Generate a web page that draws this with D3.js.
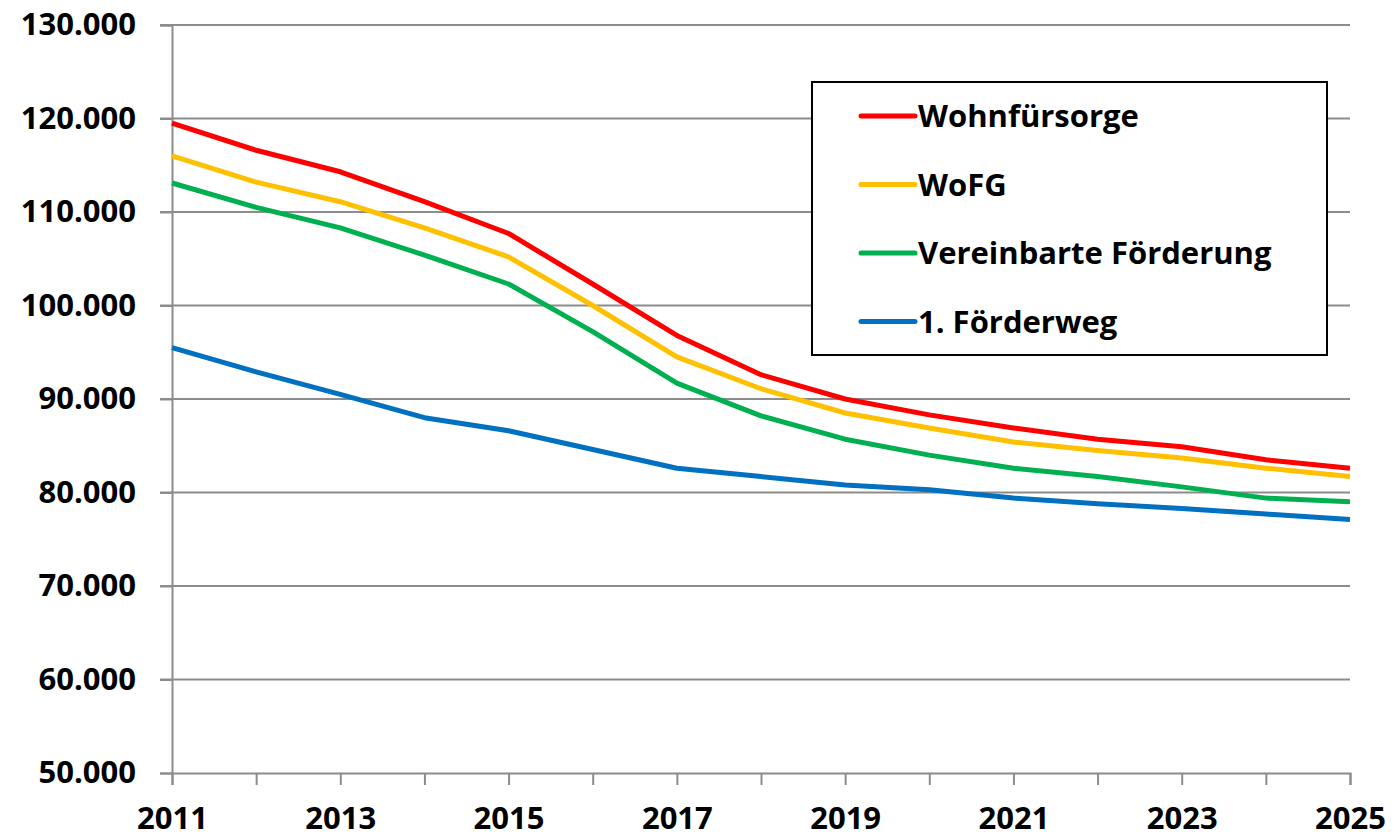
<!DOCTYPE html>
<html>
<head>
<meta charset="utf-8">
<script src="https://cdn.jsdelivr.net/npm/d3@7/dist/d3.min.js"></script>
<style>
  body { margin: 0; background: #fff; }
  svg { display: block; }
</style>
</head>
<body>
<div id="chart-container"></div>
<script>
const years = [2011, 2012, 2013, 2014, 2015, 2016, 2017, 2018, 2019, 2020, 2021, 2022, 2023, 2024, 2025];
const wohnfuersorge = [119.5, 116.6, 114.3, 111.1, 107.7, 102.3, 96.8, 92.6, 90.0, 88.3, 86.9, 85.7, 84.9, 83.5, 82.6];
const wofg = [116.0, 113.2, 111.1, 108.3, 105.2, 100.0, 94.5, 91.1, 88.5, 86.9, 85.4, 84.5, 83.7, 82.6, 81.7];
const vereinbarte = [113.1, 110.5, 108.3, 105.4, 102.3, 97.2, 91.7, 88.2, 85.7, 84.0, 82.6, 81.7, 80.6, 79.4, 79.0];
const foerderweg1 = [95.5, 92.9, 90.5, 88.0, 86.6, 84.6, 82.6, 81.7, 80.8, 80.3, 79.4, 78.8, 78.3, 77.7, 77.1];
const yTicks = [50, 60, 70, 80, 90, 100, 110, 120, 130];
const xLabelYears = [2011, 2013, 2015, 2017, 2019, 2021, 2023, 2025];

const series = [
  { name: "Wohnfürsorge", values: wohnfuersorge, color: "#FF0000" },
  { name: "WoFG", values: wofg, color: "#FFC000" },
  { name: "Vereinbarte Förderung", values: vereinbarte, color: "#00B050" },
  { name: "1. Förderweg", values: foerderweg1, color: "#0070C0" }
];

const W = 1397, H = 837;
const margin = { top: 25, right: 47, bottom: 64, left: 172 };
const width = W - margin.left - margin.right;
const height = H - margin.top - margin.bottom;
const font = "'Open Sans', 'DejaVu Sans', sans-serif";
const fontSize = "31px";

const svg = d3.select("#chart-container")
  .append("svg")
  .attr("width", W)
  .attr("height", H);

const g = svg.append("g")
  .attr("transform", "translate(" + margin.left + "," + margin.top + ")");

const xScale = d3.scaleLinear().domain([2011, 2025]).range([0, width]);
const yScale = d3.scaleLinear().domain([50, 130]).range([height, 0]);

// gridlines
g.append("g")
  .selectAll("line")
  .data(yTicks.filter(d => d !== 50))
  .enter()
  .append("line")
  .attr("x1", -12)
  .attr("x2", width)
  .attr("y1", d => yScale(d))
  .attr("y2", d => yScale(d))
  .attr("stroke", "#8c8c8c")
  .attr("stroke-width", 2);

// y axis
const yAxis = g.append("g")
  .call(d3.axisLeft(yScale).tickValues(yTicks).tickSize(12).tickPadding(24)
    .tickFormat(d => d3.format(".3f")(d).replace(/,/g, "")));
yAxis.select(".domain").attr("stroke", "#8c8c8c").attr("stroke-width", 2);
yAxis.selectAll(".tick line").attr("stroke", "#8c8c8c").attr("stroke-width", 2);
yAxis.selectAll("text")
  .attr("font-family", font)
  .attr("font-weight", "bold")
  .attr("font-size", fontSize)
  .attr("fill", "#000");

// x axis
const xAxis = g.append("g")
  .attr("transform", "translate(0," + height + ")")
  .call(d3.axisBottom(xScale).tickValues(years).tickSize(12).tickPadding(22)
    .tickFormat(d => xLabelYears.includes(d) ? String(d) : ""));
xAxis.select(".domain").attr("stroke", "#8c8c8c").attr("stroke-width", 2);
xAxis.selectAll(".tick line").attr("stroke", "#8c8c8c").attr("stroke-width", 2);
xAxis.selectAll("text")
  .attr("font-family", font)
  .attr("font-weight", "bold")
  .attr("font-size", fontSize)
  .attr("fill", "#000");

// lines
const line = d3.line()
  .x((d, i) => xScale(years[i]))
  .y(d => yScale(d));

g.append("g")
  .selectAll("path")
  .data(series)
  .enter()
  .append("path")
  .attr("d", d => line(d.values))
  .attr("fill", "none")
  .attr("stroke", d => d.color)
  .attr("stroke-width", 5)
  .attr("stroke-linejoin", "round");

// legend
const legend = svg.append("g").attr("transform", "translate(812,82)");
legend.append("rect")
  .attr("width", 515)
  .attr("height", 273)
  .attr("fill", "#fff")
  .attr("stroke", "#000")
  .attr("stroke-width", 2);

const items = legend.selectAll(".legend-item")
  .data(series)
  .enter()
  .append("g")
  .attr("class", "legend-item")
  .attr("transform", (d, i) => "translate(0," + (34 + i * 68.5) + ")");

items.append("line")
  .attr("x1", 49)
  .attr("x2", 103)
  .attr("stroke", d => d.color)
  .attr("stroke-width", 5)
  .attr("stroke-linecap", "round");

items.append("text")
  .attr("x", 106)
  .attr("y", 11)
  .attr("font-family", font)
  .attr("font-weight", "bold")
  .attr("font-size", fontSize)
  .attr("fill", "#000")
  .text(d => d.name);
</script>
</body>
</html>
